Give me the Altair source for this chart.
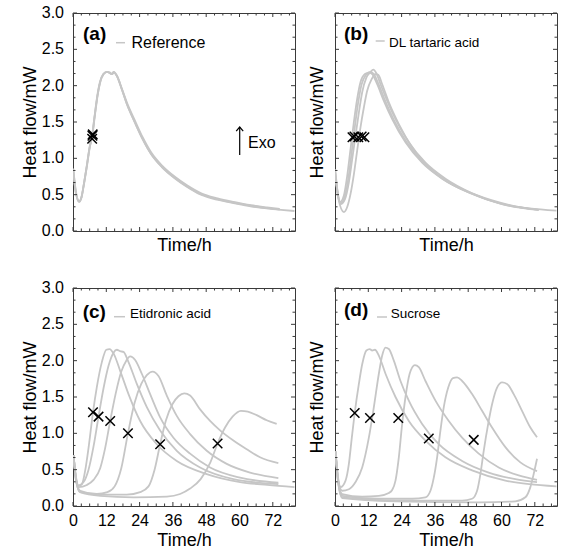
import altair as alt
import pandas as pd

FONT = "Liberation Sans"
GRAY = "#c6c6c6"
FRAME = "#3a3a3a"
W, H = 222, 218
Y_TOP = 3.0

# Axis ticks (values in data units)
X_MAJOR = [0, 12, 24, 36, 48, 60, 72]
X_MINOR = [3, 6, 9, 15, 18, 21, 27, 30, 33, 39, 42, 45, 51, 54, 57, 63, 66, 69, 75, 78]
Y_MAJOR = [0.0, 0.5, 1.0, 1.5, 2.0, 2.5, 3.0]
Y_WHOLE = [0.0, 1.0, 2.0, 3.0]
Y_WHOLE_LABELS = ["0.0", "1.0", "2.0", "3.0"]
Y_HALF = [0.5, 1.5, 2.5]
Y_HALF_LABELS = ["0.5", "1.5", "2.5"]
Y_MINOR = [0.167, 0.333, 0.667, 0.833, 1.167, 1.333, 1.667, 1.833,
           2.167, 2.333, 2.667, 2.833]

# ---- (a) Reference: heat flow curves (time h, heat flow mW) ----
A1 = [(0.1, 0.86), (1.0, 0.56), (2.2, 0.40), (3.0, 0.45), (3.8, 0.62), (5.0, 0.90),
      (6.0, 1.15), (6.9, 1.31), (7.8, 1.58), (8.8, 1.86), (9.8, 2.05), (11.0, 2.16),
      (12.2, 2.19), (13.3, 2.18), (14.0, 2.16), (14.7, 2.19), (15.8, 2.14), (17.6, 1.95),
      (19.4, 1.75), (22.1, 1.51), (25.0, 1.27), (28.1, 1.06), (32.0, 0.88), (36.5, 0.73),
      (41.0, 0.61), (46.1, 0.50), (52.0, 0.43), (57.8, 0.385), (64.0, 0.34), (69.8, 0.31),
      (75.0, 0.29), (79.8, 0.275)]
A2 = [(0.1, 0.82), (1.0, 0.53), (2.3, 0.41), (3.1, 0.47), (3.9, 0.63), (5.1, 0.91),
      (6.1, 1.16), (7.0, 1.32), (7.9, 1.59), (8.9, 1.87), (9.9, 2.06), (11.1, 2.16),
      (12.3, 2.19), (13.4, 2.17), (14.1, 2.16), (14.8, 2.18), (15.9, 2.13), (17.7, 1.95),
      (19.5, 1.76), (22.2, 1.53), (25.1, 1.29), (28.2, 1.08), (32.1, 0.90), (36.6, 0.75),
      (41.1, 0.63), (46.2, 0.52), (52.1, 0.45), (57.9, 0.40), (64.1, 0.355), (69.9, 0.325),
      (74.5, 0.305)]
A3 = [(0.1, 0.84), (1.0, 0.54), (2.2, 0.40), (3.0, 0.46), (3.8, 0.62), (5.0, 0.91),
      (6.0, 1.16), (6.8, 1.29), (7.7, 1.56), (8.7, 1.85), (9.7, 2.05), (10.9, 2.16),
      (12.1, 2.19), (13.2, 2.18), (13.9, 2.16), (14.6, 2.19), (15.7, 2.14), (17.5, 1.96),
      (19.3, 1.76), (22.0, 1.52), (24.9, 1.28), (28.0, 1.07), (31.9, 0.89), (36.4, 0.74),
      (40.9, 0.62), (46.0, 0.51), (51.9, 0.44), (57.7, 0.39), (63.9, 0.35), (69.7, 0.315),
      (74.5, 0.295)]
MARK_A = [(6.9, 1.27), (7.0, 1.31), (7.1, 1.33)]

# ---- (b) DL tartaric acid ----
B1 = [(0.1, 0.85), (0.9, 0.55), (1.8, 0.40), (3.2, 0.49), (4.4, 0.76), (5.6, 1.13),
      (6.8, 1.50), (8.0, 1.82), (9.2, 2.05), (10.8, 2.16), (12.2, 2.18), (13.4, 2.16),
      (15.2, 2.02), (17.6, 1.79), (20.6, 1.54), (25.4, 1.22), (31.4, 0.94), (38.6, 0.72),
      (48.2, 0.53), (60.2, 0.37), (73.4, 0.29)]
B2 = [(0.1, 0.80), (1.0, 0.52), (2.0, 0.38), (3.4, 0.46), (4.8, 0.72), (6.0, 1.08),
      (7.2, 1.45), (8.4, 1.78), (9.6, 2.02), (11.2, 2.15), (12.8, 2.19), (14.0, 2.16),
      (15.8, 2.01), (18.2, 1.78), (21.2, 1.53), (26.0, 1.21), (32.0, 0.93), (39.2, 0.71),
      (48.8, 0.52), (60.8, 0.37), (73.4, 0.29)]
B3 = [(0.1, 0.78), (1.0, 0.50), (2.0, 0.37), (3.6, 0.44), (5.0, 0.67), (6.2, 0.99),
      (7.4, 1.31), (8.6, 1.63), (9.8, 1.91), (11.3, 2.11), (12.8, 2.19), (13.8, 2.22),
      (14.9, 2.17), (16.4, 2.02), (18.8, 1.79), (21.8, 1.54), (26.6, 1.22), (32.6, 0.94),
      (39.8, 0.72), (49.4, 0.52), (61.4, 0.36), (70.0, 0.31), (79.8, 0.28)]
B4 = [(0.2, 0.76), (1.2, 0.45), (3.2, 0.26), (4.4, 0.33), (5.6, 0.51), (6.8, 0.78),
      (8.0, 1.11), (9.2, 1.43), (10.4, 1.70), (11.6, 1.93), (13.2, 2.09), (14.6, 2.16),
      (15.6, 2.15), (17.0, 2.02), (19.4, 1.77), (23.0, 1.47), (27.8, 1.15), (33.8, 0.88),
      (41.0, 0.67), (50.6, 0.50), (62.6, 0.36), (73.4, 0.29)]
MARK_B = [(6.3, 1.29), (7.0, 1.30), (8.4, 1.29), (9.6, 1.30), (10.6, 1.29)]

# ---- (c) Etidronic acid ----
C1 = [(0.2, 0.70), (1.0, 0.42), (2.0, 0.28), (3.2, 0.30), (4.4, 0.49), (5.6, 0.80),
      (7.2, 1.29), (8.6, 1.64), (10.4, 1.98), (12.0, 2.15), (13.2, 2.16), (14.6, 2.10),
      (17.0, 1.86), (20.0, 1.54), (24.2, 1.17), (30.2, 0.85), (37.4, 0.62), (48.2, 0.44),
      (60.2, 0.33), (70.0, 0.29), (79.8, 0.26)]
C2 = [(0.2, 0.70), (1.0, 0.40), (1.8, 0.28), (3.8, 0.33), (5.6, 0.50), (7.4, 0.82),
      (9.2, 1.23), (11.0, 1.62), (12.8, 1.93), (14.6, 2.11), (15.8, 2.15), (17.0, 2.13),
      (18.2, 2.12), (20.0, 1.98), (23.0, 1.68), (26.6, 1.36), (31.4, 1.04), (37.4, 0.76),
      (45.8, 0.53), (57.8, 0.37), (74.0, 0.30)]
C3 = [(0.2, 0.70), (1.0, 0.38), (2.0, 0.26), (5.0, 0.29), (7.4, 0.36), (9.8, 0.52),
      (11.6, 0.80), (13.4, 1.17), (15.4, 1.55), (17.4, 1.85), (19.2, 2.00), (20.6, 2.06),
      (22.4, 2.01), (24.8, 1.82), (27.8, 1.54), (31.4, 1.22), (36.2, 0.94), (42.2, 0.72),
      (49.4, 0.53), (60.2, 0.39), (74.0, 0.32)]
C4 = [(0.2, 0.70), (1.2, 0.35), (2.6, 0.21), (8.6, 0.165), (12.4, 0.19), (15.0, 0.27),
      (17.4, 0.52), (19.8, 1.00), (22.2, 1.42), (24.6, 1.68), (26.6, 1.80), (28.7, 1.85),
      (30.8, 1.79), (33.8, 1.52), (37.4, 1.24), (42.2, 0.99), (48.2, 0.76), (55.4, 0.58),
      (63.8, 0.46), (74.0, 0.385)]
C5 = [(0.2, 0.70), (1.2, 0.33), (2.6, 0.19), (9.8, 0.156), (19.4, 0.156), (24.2, 0.19),
      (27.2, 0.27), (29.4, 0.50), (31.4, 0.85), (33.5, 1.18), (35.8, 1.40), (38.0, 1.51),
      (40.1, 1.55), (42.2, 1.52), (45.8, 1.33), (49.4, 1.17), (53.0, 1.04), (57.8, 0.90),
      (62.6, 0.78), (67.4, 0.67), (74.0, 0.59)]
C6 = [(0.2, 0.70), (1.2, 0.33), (2.6, 0.19), (9.8, 0.14), (21.8, 0.12), (33.8, 0.13),
      (38.6, 0.165), (42.2, 0.24), (46.0, 0.37), (49.5, 0.60), (52.1, 0.86), (54.8, 1.08),
      (57.5, 1.23), (60.5, 1.31), (63.0, 1.30), (66.2, 1.25), (69.8, 1.18), (73.4, 1.13)]
MARK_C = [(7.2, 1.29), (9.2, 1.23), (13.4, 1.17), (19.8, 1.00), (31.4, 0.85), (52.1, 0.86)]

# ---- (d) Sucrose ----
D1 = [(0.2, 0.75), (1.0, 0.42), (2.0, 0.26), (3.8, 0.35), (5.0, 0.58), (6.0, 0.92),
      (7.1, 1.28), (8.6, 1.68), (9.8, 1.95), (11.3, 2.14), (12.5, 2.16), (13.4, 2.14),
      (14.4, 2.15), (15.8, 2.07), (18.2, 1.82), (21.8, 1.50), (26.6, 1.17), (32.6, 0.90),
      (39.8, 0.67), (49.4, 0.49), (61.4, 0.35), (70.0, 0.30), (79.8, 0.27)]
D2 = [(0.2, 0.75), (1.2, 0.35), (2.6, 0.21), (5.0, 0.23), (7.4, 0.33), (9.8, 0.53),
      (12.2, 0.94), (14.0, 1.36), (15.8, 1.82), (17.0, 2.07), (18.2, 2.18), (19.4, 2.16),
      (21.2, 2.00), (23.6, 1.72), (26.6, 1.45), (31.4, 1.13), (37.4, 0.85), (45.8, 0.62),
      (55.4, 0.46), (65.0, 0.37), (72.8, 0.33)]
D3 = [(0.2, 0.75), (1.2, 0.33), (2.6, 0.165), (9.8, 0.13), (15.8, 0.14), (19.4, 0.18),
      (20.6, 0.22), (21.8, 0.35), (23.0, 0.67), (24.2, 1.13), (25.4, 1.50), (26.9, 1.82),
      (28.8, 1.94), (30.2, 1.91), (32.6, 1.72), (36.2, 1.45), (41.0, 1.17), (45.8, 0.94),
      (51.8, 0.72), (59.0, 0.53), (66.2, 0.42), (72.8, 0.36)]
D4 = [(0.2, 0.75), (1.2, 0.32), (2.6, 0.14), (15.8, 0.10), (27.8, 0.10), (32.6, 0.12),
      (34.4, 0.21), (35.6, 0.39), (36.8, 0.67), (38.0, 1.04), (39.2, 1.36), (40.8, 1.63),
      (42.5, 1.76), (44.0, 1.77), (45.8, 1.72), (49.4, 1.54), (53.0, 1.31), (56.6, 1.08),
      (61.4, 0.81), (66.8, 0.60), (72.8, 0.48)]
D5 = [(0.2, 0.75), (1.2, 0.32), (2.6, 0.12), (21.8, 0.075), (45.8, 0.075), (49.4, 0.10),
      (51.2, 0.21), (52.4, 0.44), (53.6, 0.76), (55.2, 1.13), (56.6, 1.40), (58.4, 1.63),
      (60.2, 1.70), (62.0, 1.68), (64.4, 1.54), (67.4, 1.31), (70.4, 1.08), (72.8, 0.945)]
D6 = [(0.2, 0.75), (1.2, 0.30), (2.6, 0.11), (21.8, 0.065), (51.8, 0.05), (65.0, 0.065),
      (68.6, 0.12), (70.4, 0.26), (71.6, 0.44), (72.8, 0.65)]
MARK_D = [(7.1, 1.28), (12.6, 1.21), (22.8, 1.21), (33.8, 0.93), (50.0, 0.91)]

XS = alt.Scale(domain=[0, 80], nice=False, zero=False)
YS = alt.Scale(domain=[0, Y_TOP], nice=False, zero=False)
X_SHAPE = "M-1,-1L1,1M-1,1L1,-1"
ARROW_HEAD = "M-1,1.2L0,0L1,1.2"


def curves_frame(curves):
    rows = []
    for k, pts in enumerate(curves):
        for i, (t, hf) in enumerate(pts):
            rows.append({"curve": k, "i": i, "t": t, "hf": hf})
    return pd.DataFrame(rows)


def x_axis(labels):
    if labels:
        return alt.Axis(values=X_MAJOR, labelFontSize=16, labelPadding=6, labelFlush=False,
                        labelOverlap=False, title="Time/h", titleFontSize=18, titlePadding=3,
                        ticks=False, tickSize=0, domain=False, grid=False)
    return alt.Axis(labels=False, title="Time/h", titleFontSize=18, titlePadding=5,
                    ticks=False, tickSize=0, domain=False, grid=False)


def y_axis(labels):
    # tick labels on the y side are drawn as text marks; the axis keeps the title
    return alt.Axis(labels=False, title="Heat flow/mW", titleFontSize=18,
                    titlePadding=34 if labels else 9,
                    ticks=False, tickSize=0, domain=False, grid=False)


def inward_ticks(xa, ya):
    layers = []
    for vals, ln in ((X_MAJOR, 4), (X_MINOR, 2.5)):
        base = alt.Chart(pd.DataFrame({"v": vals})).mark_rule(color=FRAME, strokeWidth=1)
        xe = alt.X("v:Q", scale=XS, axis=xa)
        layers.append(base.encode(x=xe, y=alt.value(H), y2=alt.value(H - ln)))
        layers.append(base.encode(x=xe, y=alt.value(0), y2=alt.value(ln)))
    for vals, ln in ((Y_MAJOR, 4), (Y_MINOR, 2.5)):
        base = alt.Chart(pd.DataFrame({"v": vals})).mark_rule(color=FRAME, strokeWidth=1)
        ye = alt.Y("v:Q", scale=YS, axis=ya)
        layers.append(base.encode(y=ye, x=alt.value(0), x2=alt.value(ln)))
        layers.append(base.encode(y=ye, x=alt.value(W), x2=alt.value(W - ln)))
    return layers


def label(text, x, y, size, bold=False, align="left"):
    return alt.Chart(pd.DataFrame({"s": [text]})).mark_text(
        font=FONT, fontSize=size, fontWeight="bold" if bold else "normal",
        align=align, baseline="middle", color="black"
    ).encode(text="s:N", x=alt.value(x), y=alt.value(y))


def y_tick_labels(ya):
    whole = alt.Chart(pd.DataFrame({"pos": Y_WHOLE, "lab": Y_WHOLE_LABELS})).mark_text(
        font=FONT, fontSize=16, align="right", color="black"
    ).encode(y=alt.Y("pos:Q", scale=YS, axis=ya), x=alt.value(-9), text="lab:N")
    # half-step labels, each placed on the same linear [0, Y_TOP] -> [H, 0] mapping
    halves = [label(lab, -9, H - v * H / Y_TOP, 16, align="right")
              for v, lab in zip(Y_HALF, Y_HALF_LABELS)]
    return [whole] + halves


def panel(curves, marks, tag, tag_xy, legend, legend_size, line_xy, text_xy,
          x_labels, y_labels, exo=False):
    xa, ya = x_axis(x_labels), y_axis(y_labels)
    lines = alt.Chart(curves_frame(curves)).mark_line(
        color=GRAY, strokeWidth=1.8, interpolate="monotone", clip=True
    ).encode(
        x=alt.X("t:Q", scale=XS, axis=xa),
        y=alt.Y("hf:Q", scale=YS, axis=ya),
        detail="curve:N",
        order="i:Q",
    )
    mdf = pd.DataFrame(marks, columns=["t", "hf"])
    crosses = alt.Chart(mdf).mark_point(
        shape=X_SHAPE, filled=False, size=90, strokeWidth=1.5, color="black", opacity=1
    ).encode(
        x=alt.X("t:Q", scale=XS, axis=xa),
        y=alt.Y("hf:Q", scale=YS, axis=ya),
    )
    key = alt.Chart(pd.DataFrame({"s": [0]})).mark_rule(color=GRAY, strokeWidth=1.5).encode(
        x=alt.value(line_xy[0]), x2=alt.value(line_xy[1]), y=alt.value(line_xy[2])
    )
    layers = [lines]
    layers += inward_ticks(xa, ya) + [
        crosses, key,
        label(tag, tag_xy[0], tag_xy[1], 19, bold=True),
        label(legend, text_xy[0], text_xy[1], legend_size),
    ]
    if exo:
        layers += [
            alt.Chart(pd.DataFrame({"s": [0]})).mark_rule(color="black", strokeWidth=1.2).encode(
                x=alt.value(166.7), y=alt.value(114), y2=alt.value(142)),
            alt.Chart(pd.DataFrame({"s": [0]})).mark_point(
                shape=ARROW_HEAD, filled=False, size=49, strokeWidth=1.2, color="black", opacity=1
            ).encode(x=alt.value(166.7), y=alt.value(114)),
            label("Exo", 175, 130, 16),
        ]
    if y_labels:
        layers += y_tick_labels(ya)
    return alt.layer(*layers).properties(width=W, height=H)


pa = panel([A1, A2, A3], MARK_A, "(a)", (10, 21), "Reference", 16,
           (43, 52, 29.7), (58.5, 29.7), False, True, exo=True)
pb = panel([B1, B2, B3, B4], MARK_B, "(b)", (9, 21), "DL tartaric acid", 13.5,
           (40.7, 49.7, 28), (54, 29.7), False, False)
pc = panel([C1, C2, C3, C4, C5, C6], MARK_C, "(c)", (9.7, 23.5), "Etidronic acid", 13.5,
           (41, 52, 28.7), (57, 26.3), True, True)
pd_ = panel([D1, D2, D3, D4, D5, D6], MARK_D, "(d)", (9, 22), "Sucrose", 13.5,
            (42, 52, 29), (55.7, 26.3), True, False)

chart = alt.concat(
    pa, pb, pc, pd_, columns=2,
    spacing=alt.RowColnumber(row=57, column=40), bounds="flush"
).properties(
    padding={"left": 20, "top": 4, "right": 5, "bottom": 5}
).configure_view(
    stroke=FRAME, strokeWidth=1
).configure_axis(
    labelFont=FONT, titleFont=FONT, labelColor="black", titleColor="black",
    titleFontWeight="normal"
)

chart.save("out.html", embed_options={"renderer": "svg", "actions": False})
